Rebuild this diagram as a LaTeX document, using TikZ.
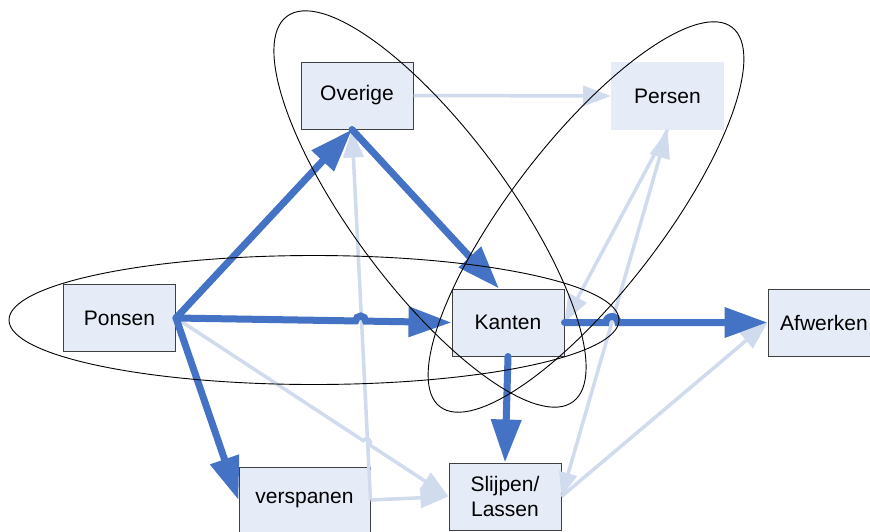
\documentclass[tikz,border=0pt]{standalone}
\usepackage{fontspec}
\setmainfont{Liberation Sans}
\usetikzlibrary{arrows.meta,calc}

\definecolor{flowdark}{HTML}{4472C4}
\definecolor{flowlight}{HTML}{D0DBEE}
\definecolor{boxfill}{HTML}{E6ECF7}
\definecolor{boxedge}{HTML}{404040}

\begin{document}
\begin{tikzpicture}[x=1pt,y=1pt,
  stepbox/.style={rectangle, fill=boxfill, draw=boxedge, line width=1pt,
    minimum width=112pt, minimum height=67pt, inner sep=0pt, align=center,
    font=\fontsize{21}{25}\selectfont},
  softbox/.style={stepbox, draw=boxfill},
  mainflow/.style={draw=flowdark, line width=7pt, line cap=round,
    -{Triangle[length=43pt,width=29pt]}},
  sideflow/.style={draw=flowlight, line width=3.5pt,
    -{Triangle[length=28pt,width=20pt]}},
  bothflow/.style={draw=flowlight, line width=3.5pt,
    {Triangle[length=24pt,width=18pt]}-{Triangle[length=28pt,width=20pt]}},
  group/.style={draw=black, line width=0.9pt}
]
\clip (0,0) rectangle (870,-531);
\fill[white] (0,0) rectangle (870,-531);

% process steps
\node[stepbox] (Ponsen)    at (119.5,-318)  {Ponsen};
\node[stepbox] (Overige)   at (357,-95.5)   {Overige};
\node[softbox] (Persen)    at (667.5,-96)   {Persen};
\node[stepbox] (Kanten)    at (508,-322.5)  {Kanten};
\node[stepbox] (Afwerken)  at (824,-322.5)  {Afwerken};
\node[stepbox, minimum width=131pt, minimum height=66pt] (verspanen) at (304.5,-500) {verspanen};
\node[stepbox] (Slijpen)   at (505,-496.5)  {Slijpen/\\Lassen};

% connection points on the box edges
\coordinate (ovbot) at ($(Overige.south)+(-5,0)$);
\coordinate (kantop) at ($(Kanten.north)+(-9,0)$);

% secondary flows
\draw[sideflow] (Overige.east) -- (Persen.west);
\draw[sideflow] (verspanen.east) -- (ovbot);
\draw[sideflow] (verspanen.east) -- (Slijpen.west);
\draw[sideflow] (Ponsen.east) -- ($(Ponsen.east)!0.6873!(Slijpen.west)$)
  arc[start angle=146.8, end angle=-33.2, radius=4] -- (Slijpen.west);
\draw[sideflow] (Persen.south) -- (Kanten.east);
\draw[bothflow] (Slijpen.east) -- (Persen.south);
\draw[sideflow] (Slijpen.east) -- (Afwerken.west);

% main flows
\draw[mainflow] (Ponsen.east) -- (ovbot);
\draw[mainflow] (ovbot) -- (kantop);
\draw[mainflow] (Ponsen.east) -- ($(Ponsen.east)!0.652!(Kanten.west)$)
  arc[start angle=179, end angle=-1, radius=5] -- (Kanten.west);
\draw[mainflow] (Ponsen.east) -- (verspanen.west);
\draw[mainflow] (Kanten.south) -- (Slijpen.north);
\draw[mainflow] (Kanten.east) -- ($(Kanten.east)!0.204!(Afwerken.west)$)
  arc[start angle=180, end angle=0, radius=6] -- (Afwerken.west);

% groupings
\draw[group] (314,-320) ellipse [x radius=305, y radius=64.5];
\draw[group, rotate around={-53.4:(430,-209)}] (430,-209) ellipse [x radius=240, y radius=77.6];
\draw[group, rotate around={52.4:(586,-217)}] (586,-217) ellipse [x radius=239.4, y radius=75.5];
\end{tikzpicture}
\end{document}
